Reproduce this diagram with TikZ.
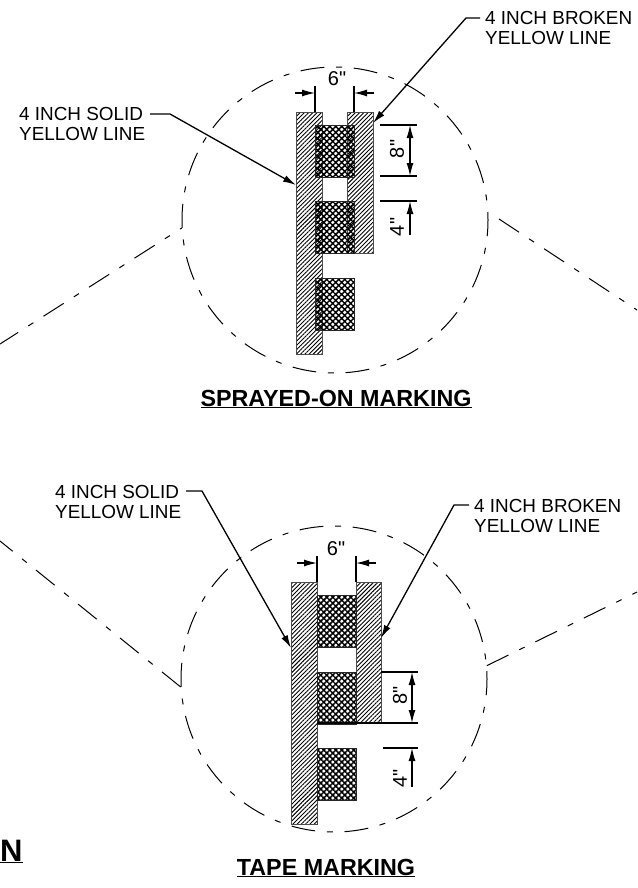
\documentclass[tikz,border=0pt]{standalone}
\usepackage{fontspec}
\setmainfont[Ligatures=TeXOff]{Liberation Sans}
\usetikzlibrary{arrows.meta,patterns.meta,positioning}
\tikzset{
    >={Latex[length=13pt,width=7pt]},
    lbl/.style={font=\fontsize{18.9}{20.5}\selectfont, align=left, inner sep=0pt},
    dimlbl/.style={font=\fontsize{20}{22}\selectfont, inner sep=0pt},
    heading/.style={font=\fontsize{23.3}{25}\selectfont\bfseries, inner sep=0pt},
    viewc/.style={circle, draw, minimum size=306pt, inner sep=0pt, line width=1pt, dash pattern=on 24pt off 11.7pt on 6pt off 11.7pt, dash phase=16pt},
    cutln/.style={line width=1pt, dash pattern=on 24pt off 12pt on 6pt off 12pt},
    bar/.style={rectangle, draw=black!70, line width=1.1pt, inner sep=0pt, anchor=north west, minimum width=26pt, pattern={Lines[angle=45,distance=3pt,line width=0.9pt]}},
    hbox/.style={rectangle, draw=black!85, line width=1.4pt, inner sep=0pt, anchor=north west, minimum width=39pt, minimum height=52pt, pattern={Hatch[angle=45,distance=4.24pt,line width=1.5pt]}},
    extl/.style={line width=1.2pt},
    lead/.style={->, line width=1.3pt},
    dima/.style={->, line width=1.2pt}
}
\begin{document}
\begin{tikzpicture}[x=1pt,y=-1pt]
    \useasboundingbox (0,0) rectangle (637,888);
    % sprayed-on
    \node[viewc] (C1) at (335,220) {};
    \coordinate (C1a) at (0,344);
    \coordinate (C1b) at (499,219);
    \coordinate (C1c) at (637,310);
    \draw[cutln, dash phase=22pt] (C1.183) -- (C1a);
    \draw[cutln] (C1b) -- (C1c);
    \node[bar, minimum height=242pt] (S1) at (296,112) {};
    \node[bar, minimum height=141pt] (B1) at (347,112) {};
    \node[hbox] (H1) at (315,125) {};
    \node[hbox] (H2) at (315,201) {};
    \node[hbox] (H3) at (315,278) {};
    \node[lbl, anchor=north west] (T1) at (19,107) {4 INCH SOLID\\YELLOW LINE};
    \node[lbl, anchor=north west] (T2) at (485,11) {4 INCH BROKEN\\YELLOW LINE};
    \coordinate (T1a) at (170,114);
    \coordinate (T2a) at (480,18);
    \coordinate (T1s) at (150,114);
    \coordinate (T2s) at (466,18);
    \coordinate (S1t) at (296,185);
    \coordinate (B1t) at (373,123);
    \draw[lead] (T1s) -- (T1a) -- (S1t);
    \draw[lead] (T2a) -- (T2s) -- (B1t);
    % 6 inch
    \coordinate (D1) at (315,86);
    \coordinate (D2) at (354,86);
    \coordinate (D1a) at (295,93);
    \coordinate (D1b) at (315,93);
    \coordinate (D2a) at (374,93);
    \coordinate (D2b) at (354,93);
    \draw[extl] (D1) -- (D1 |- S1.north);
    \draw[extl] (D2) -- (D2 |- S1.north);
    \draw[dima] (D1a) -- (D1b);
    \draw[dima] (D2a) -- (D2b);
    \node[dimlbl] (W1) at (337,79) {6"};
    % 8 and 4 inch
    \coordinate (E1) at (380,125);
    \coordinate (E2) at (380,176);
    \coordinate (E3) at (380,201);
    \coordinate (E1b) at (417,125);
    \coordinate (E2b) at (417,176);
    \coordinate (E3b) at (417,201);
    \coordinate (E4) at (410,235);
    \coordinate (E3a) at (410,201);
    \coordinate (E1a) at (410,125);
    \coordinate (E2a) at (410,176);
    \draw[extl] (E1) -- (E1b);
    \draw[extl] (E2) -- (E2b);
    \draw[extl] (E3) -- (E3b);
    \draw[dima,<->] (E1a) -- (E2a);
    \draw[dima] (E4) -- (E3a);
    \node[dimlbl, rotate=90] (W2) at (397,149) {8"};
    \node[dimlbl, rotate=90] (W3) at (397,227) {4"};
    \node[heading] (N1) at (336,399) {\underline{SPRAYED-ON MARKING}};
    % tape
    \node[viewc] (C2) at (334,679) {};
    \coordinate (C2a) at (0,541);
    \coordinate (C2c) at (637,592);
    \draw[cutln] (C2.183) -- (C2a);
    \draw[cutln] (C2.5) -- (C2c);
    \node[bar, minimum height=242pt] (S2) at (291,582) {};
    \node[bar, minimum width=25pt, minimum height=141pt] (B2) at (356,582) {};
    \node[hbox] (H4) at (317,595) {};
    \node[hbox] (H5) at (317,672) {};
    \node[hbox] (H6) at (317,748) {};
    \node[lbl, anchor=north west] (T3) at (55,485) {4 INCH SOLID\\YELLOW LINE};
    \node[lbl, anchor=north west] (T4) at (474,499) {4 INCH BROKEN\\YELLOW LINE};
    \coordinate (T3s) at (186,491);
    \coordinate (T3a) at (202,491);
    \coordinate (T4s) at (469,505);
    \coordinate (T4a) at (454,505);
    \coordinate (S2t) at (291,648);
    \coordinate (B2t) at (381,638);
    \draw[lead] (T3s) -- (T3a) -- (S2t);
    \draw[lead] (T4s) -- (T4a) -- (B2t);
    \coordinate (F1) at (317,556);
    \coordinate (F2) at (356,556);
    \coordinate (F1a) at (297,563);
    \coordinate (F1b) at (317,563);
    \coordinate (F2a) at (376,563);
    \coordinate (F2b) at (356,563);
    \draw[extl] (F1) -- (F1 |- S2.north);
    \draw[extl] (F2) -- (F2 |- S2.north);
    \draw[dima] (F1a) -- (F1b);
    \draw[dima] (F2a) -- (F2b);
    \node[dimlbl] (W4) at (336,549) {6"};
    \coordinate (G1) at (381,672);
    \coordinate (G2) at (317,723);
    \coordinate (G3) at (383,748);
    \coordinate (G1b) at (418,672);
    \coordinate (G2b) at (418,723);
    \coordinate (G3b) at (418,748);
    \coordinate (G1a) at (412,672);
    \coordinate (G2a) at (412,723);
    \coordinate (G3a) at (412,748);
    \coordinate (G4) at (412,787);
    \draw[extl] (G1) -- (G1b);
    \draw[extl] (G2) -- (G2b);
    \draw[extl] (G3) -- (G3b);
    \draw[dima,<->] (G1a) -- (G2a);
    \draw[dima] (G4) -- (G3a);
    \node[dimlbl, rotate=90] (W5) at (400,695) {8"};
    \node[dimlbl, rotate=90] (W6) at (400,778) {4"};
    \node[heading] (N2) at (326,868) {\underline{TAPE MARKING}};
    \node[heading, font=\fontsize{31}{32}\selectfont\bfseries, anchor=base west] (N3) at (0,861) {\underline{N}};
\end{tikzpicture}
\end{document}
